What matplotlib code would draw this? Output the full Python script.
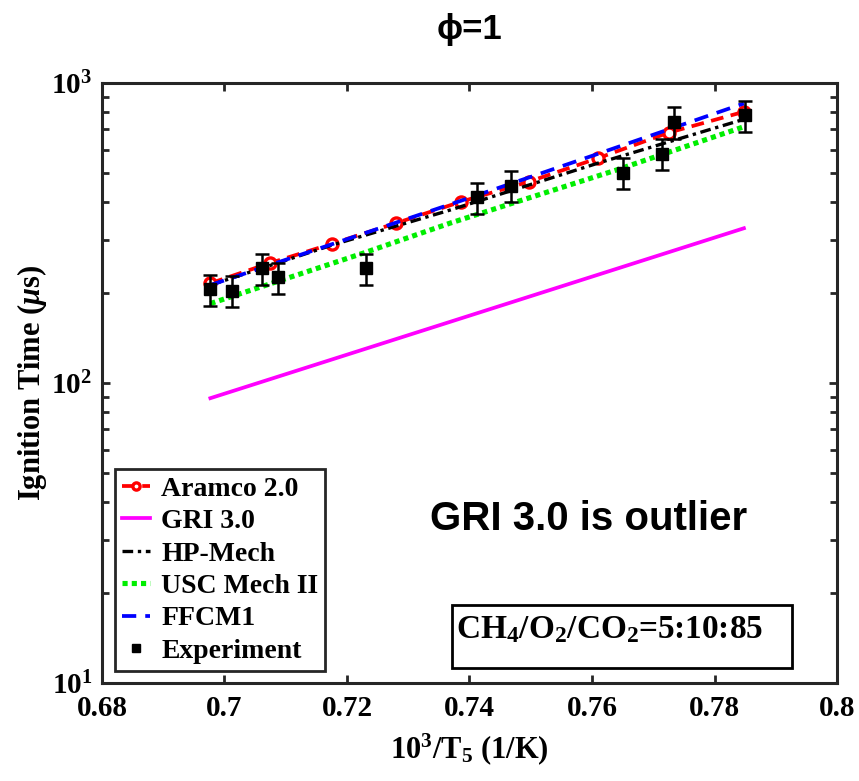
import matplotlib
matplotlib.use("Agg")
import matplotlib.pyplot as plt
from matplotlib.patches import Rectangle
from matplotlib.ticker import LogLocator, NullFormatter

plt.rcParams['font.family'] = 'Liberation Serif'
plt.rcParams['font.weight'] = 'bold'
plt.rcParams['axes.labelweight'] = 'bold'
plt.rcParams['mathtext.fontset'] = 'custom'
plt.rcParams['mathtext.rm'] = 'Liberation Serif:bold'
plt.rcParams['mathtext.it'] = 'Liberation Serif:italic:bold'
plt.rcParams['mathtext.bf'] = 'Liberation Serif:bold'

# %%
# Values (1000/T5 in 1/K, ignition time in us)
exp_x = [0.6977, 0.7012, 0.7061, 0.7087, 0.7231, 0.7412, 0.7468, 0.7650, 0.7715, 0.7734, 0.7849]
exp_tau = [205, 203, 241, 225, 241, 416, 455, 502, 581, 741, 780]
exp_unc = 0.12  # relative uncertainty

aramco_x = [0.6977, 0.7074, 0.7175, 0.7280, 0.7386, 0.7497, 0.7609, 0.7725, 0.7848]
aramco_tau = [215, 251, 291, 341, 402, 469, 561, 683, 802]

gri_x = [0.6977, 0.7848]
gri_tau = [89, 328]

hp_x = [0.6977, 0.7175, 0.7368, 0.7609, 0.7848]
hp_tau = [212, 288, 377, 540, 757]

usc_x = [0.6977, 0.7229, 0.7368, 0.7640, 0.7848]
usc_tau = [184, 272, 341, 513, 715]

ffcm_x = [0.6977, 0.7175, 0.7386, 0.7609, 0.7848]
ffcm_tau = [212, 290, 405, 580, 855]

xticks = [0.68, 0.70, 0.72, 0.74, 0.76, 0.78, 0.80]
xticklabels = ['0.68', '0.7', '0.72', '0.74', '0.76', '0.78', '0.8']

# %%
fig = plt.figure(figsize=(8.59, 7.81), dpi=100)
ax = fig.add_axes([0.1187, 0.1255, 0.8557, 0.7682])

ax.plot(aramco_x, aramco_tau, color='red', ls='--', dashes=(3.4, 2.0), lw=2.7,
        marker='o', ms=8, mfc='white', mec='red', mew=2.4, label='Aramco 2.0')
ax.plot(gri_x, gri_tau, color='magenta', ls='-', lw=2.7, label='GRI 3.0')
ax.plot(hp_x, hp_tau, color='black', ls='-.', dashes=(3.2, 1.4, 1, 1.4), lw=2.4,
        label='HP-Mech')
ax.plot(usc_x, usc_tau, color='#00ee00', ls=':', dashes=(1, 0.8), lw=3.7,
        dash_capstyle='butt', label='USC Mech II')
ax.plot(ffcm_x, ffcm_tau, color='blue', ls='--', dashes=(3.8, 2.4), lw=2.7,
        label='FFCM1')

err = [t * exp_unc for t in exp_tau]
ax.errorbar(exp_x, exp_tau, yerr=err, fmt='none', ecolor='black',
            elinewidth=1.8, capsize=5, capthick=1.8, zorder=4)
ax.plot(exp_x, exp_tau, ls='none', marker='s', ms=8.5, color='black',
        label='Experiment', zorder=5)

ax.set_yscale('log')
ax.set_xlim(0.68, 0.80)
ax.set_ylim(10, 1000)
ax.set_xticks(xticks)
ax.set_xticklabels(xticklabels)
ax.yaxis.set_major_locator(LogLocator(base=10, numticks=5))
ax.yaxis.set_minor_locator(LogLocator(base=10, subs=range(2, 10), numticks=20))
ax.yaxis.set_minor_formatter(NullFormatter())

ax.tick_params(which='both', direction='in', top=True, right=True,
               width=2, color='#262626', labelsize=21)
ax.tick_params(which='major', length=5.5)
ax.tick_params(axis='x', which='major', pad=9)
ax.tick_params(axis='y', which='major', pad=7)
ax.tick_params(which='minor', length=5)
for s in ax.spines.values():
    s.set_linewidth(2.2)
    s.set_color('#262626')

ax.set_xlabel(r'10$^{\mathdefault{3}}$/T$_{\mathdefault{5}}$ (1/K)', fontsize=22, labelpad=6)
ax.set_ylabel(r'Ignition Time ($\mu$s)', fontsize=22, labelpad=2)
ax.set_title('\u03d5=1', fontsize=25, fontweight='bold',
             family=['Liberation Sans', 'DejaVu Sans'], pad=32)

leg = ax.legend(loc='lower left', bbox_to_anchor=(0.0177, 0.0205), borderaxespad=0,
                fontsize=20, handlelength=1.0, handletextpad=0.42, labelspacing=0.25,
                borderpad=0.25, fancybox=False, framealpha=1, edgecolor='#262626',
                markerscale=0.65)
leg.get_frame().set_linewidth(2)

ax.text(0.662, 0.273, 'GRI 3.0 is outlier', transform=ax.transAxes,
        family=['Liberation Sans', 'DejaVu Sans'], fontweight='bold', fontsize=29,
        ha='center', va='center')

ax.add_patch(Rectangle((0.4758, 0.0245), 0.4626, 0.1055, transform=ax.transAxes,
                       fill=True, facecolor='white', edgecolor='black', lw=2, zorder=6))
ax.text(0.4816, 0.088, r'CH$_{\mathdefault{4}}$/O$_{\mathdefault{2}}$/CO$_{\mathdefault{2}}$=5:10:85',
        transform=ax.transAxes, fontsize=24, ha='left', va='center', zorder=7)

fig.savefig('out.png', dpi=100)
